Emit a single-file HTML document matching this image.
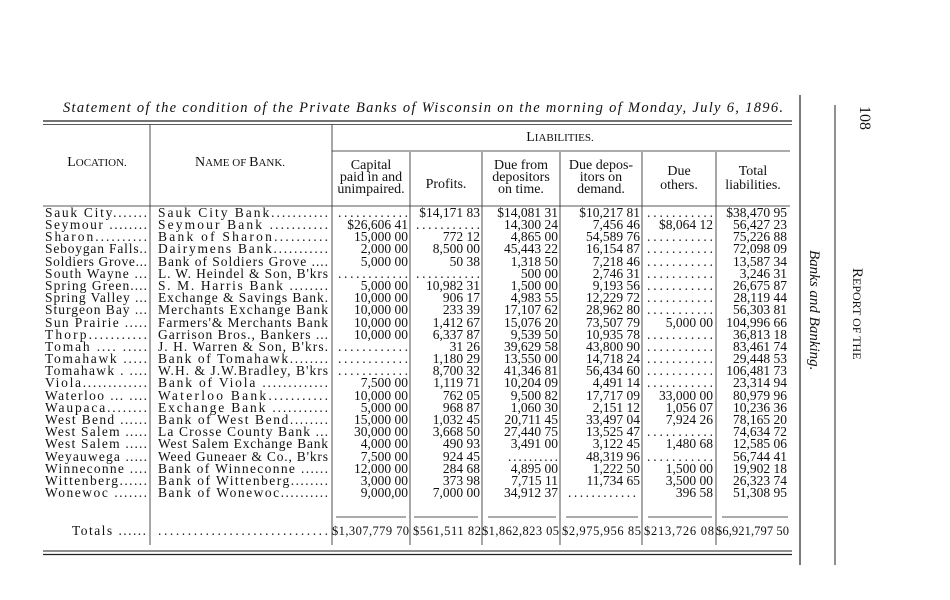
<!DOCTYPE html>
<html><head><meta charset="utf-8"><style>
html,body{margin:0;padding:0;background:#fff;}
svg{display:block;}
text{font-family:"Liberation Serif",serif;fill:#111;}
.b{font-size:13.5px;}
.n{font-size:13.5px;text-anchor:end;}
.h{font-size:14px;text-anchor:middle;}
</style></head><body>
<svg width="950" height="600" viewBox="0 0 950 600" xmlns="http://www.w3.org/2000/svg">
<rect width="950" height="600" fill="#fff"/>
<text x="63" y="112" font-size="14.5" font-style="italic" textLength="720">Statement of the condition of the Private Banks of Wisconsin on the morning of Monday, July 6, 1896.</text>
<g stroke="#222" fill="none">
<line x1="43" y1="121" x2="792" y2="121" stroke-width="1.2"/>
<line x1="43" y1="124.5" x2="792" y2="124.5" stroke-width="0.8"/>
<line x1="332" y1="151" x2="790" y2="151" stroke-width="0.8"/>
<line x1="43" y1="206" x2="790" y2="206" stroke-width="0.8"/>
<line x1="43" y1="551" x2="792" y2="551" stroke-width="1"/>
<line x1="43" y1="554.5" x2="792" y2="554.5" stroke-width="1.2"/>
<line x1="150" y1="125" x2="150" y2="545" stroke-width="0.8"/>
<line x1="332" y1="125" x2="332" y2="545" stroke-width="0.8"/>
<line x1="410" y1="152" x2="410" y2="545" stroke-width="0.8"/>
<line x1="482" y1="152" x2="482" y2="545" stroke-width="0.8"/>
<line x1="560" y1="152" x2="560" y2="545" stroke-width="0.8"/>
<line x1="642" y1="152" x2="642" y2="545" stroke-width="0.8"/>
<line x1="716" y1="152" x2="716" y2="545" stroke-width="0.8"/>
<line x1="800" y1="95" x2="800" y2="565" stroke-width="1.2"/>
<line x1="835" y1="105" x2="835" y2="565" stroke-width="1"/>
<line x1="336" y1="517" x2="406" y2="517" stroke-width="0.8"/>
<line x1="414" y1="517" x2="478" y2="517" stroke-width="0.8"/>
<line x1="488" y1="517" x2="556" y2="517" stroke-width="0.8"/>
<line x1="566" y1="517" x2="638" y2="517" stroke-width="0.8"/>
<line x1="648" y1="517" x2="712" y2="517" stroke-width="0.8"/>
<line x1="722" y1="517" x2="788" y2="517" stroke-width="0.8"/>
</g>
<text class="h" x="97" y="166">L<tspan font-size="11">OCATION.</tspan></text>
<text class="h" x="240" y="166">N<tspan font-size="11">AME OF </tspan>B<tspan font-size="11">ANK.</tspan></text>
<text class="h" x="560" y="141">L<tspan font-size="11">IABILITIES.</tspan></text>
<text class="h" x="371" y="169">Capital</text><text class="h" x="371" y="181">paid in and</text><text class="h" x="371" y="193">unimpaired.</text>
<text class="h" x="446" y="188">Profits.</text>
<text class="h" x="521" y="169">Due from</text><text class="h" x="521" y="181">depositors</text><text class="h" x="521" y="193">on time.</text>
<text class="h" x="601" y="169">Due depos-</text><text class="h" x="601" y="181">itors on</text><text class="h" x="601" y="193">demand.</text>
<text class="h" x="679" y="175">Due</text><text class="h" x="679" y="189">others.</text>
<text class="h" x="753" y="175">Total</text><text class="h" x="753" y="189">liabilities.</text>

<g class="b">
<text x="45" y="217" textLength="102">Sauk City.......</text>
<text x="45" y="229" textLength="102">Seymour ........</text>
<text x="45" y="241" textLength="102">Sharon..........</text>
<text x="45" y="253" textLength="102">Seboygan Falls..</text>
<text x="45" y="266" textLength="102">Soldiers Grove...</text>
<text x="45" y="278" textLength="102">South Wayne ...</text>
<text x="45" y="290" textLength="102">Spring Green....</text>
<text x="45" y="302" textLength="102">Spring Valley ...</text>
<text x="45" y="314" textLength="102">Sturgeon Bay ...</text>
<text x="45" y="327" textLength="102">Sun Prairie .....</text>
<text x="45" y="339" textLength="102">Thorp...........</text>
<text x="45" y="351" textLength="102">Tomah .... .....</text>
<text x="45" y="363" textLength="102">Tomahawk .....</text>
<text x="45" y="375" textLength="102">Tomahawk . ....</text>
<text x="45" y="387" textLength="102">Viola.............</text>
<text x="45" y="400" textLength="102">Waterloo ... ....</text>
<text x="45" y="412" textLength="102">Waupaca........</text>
<text x="45" y="424" textLength="102">West Bend ......</text>
<text x="45" y="436" textLength="102">West Salem .....</text>
<text x="45" y="448" textLength="102">West Salem .....</text>
<text x="45" y="461" textLength="102">Weyauwega .....</text>
<text x="45" y="473" textLength="102">Winneconne ....</text>
<text x="45" y="485" textLength="102">Wittenberg......</text>
<text x="45" y="497" textLength="102">Wonewoc .......</text>
<text x="72" y="535" textLength="74">Totals ......</text>

<text x="158" y="217" textLength="170">Sauk City Bank...........</text>
<text x="158" y="229" textLength="170">Seymour Bank ...........</text>
<text x="158" y="241" textLength="170">Bank of Sharon..........</text>
<text x="158" y="253" textLength="170">Dairymens Bank...........</text>
<text x="158" y="266" textLength="170">Bank of Soldiers Grove ....</text>
<text x="158" y="278" textLength="170">L. W. Heindel &amp; Son, B'krs</text>
<text x="158" y="290" textLength="170">S. M. Harris Bank ........</text>
<text x="158" y="302" textLength="170">Exchange &amp; Savings Bank.</text>
<text x="158" y="314" textLength="170">Merchants Exchange Bank</text>
<text x="158" y="327" textLength="170">Farmers'&amp; Merchants Bank</text>
<text x="158" y="339" textLength="170">Garrison Bros., Bankers ...</text>
<text x="158" y="351" textLength="170">J. H. Warren &amp; Son, B'krs.</text>
<text x="158" y="363" textLength="170">Bank of Tomahawk........</text>
<text x="158" y="375" textLength="170">W.H. &amp; J.W.Bradley, B'krs</text>
<text x="158" y="387" textLength="170">Bank of Viola .............</text>
<text x="158" y="400" textLength="170">Waterloo Bank...........</text>
<text x="158" y="412" textLength="170">Exchange Bank ...........</text>
<text x="158" y="424" textLength="170">Bank of West Bend........</text>
<text x="158" y="436" textLength="170">La Crosse County Bank ...</text>
<text x="158" y="448" textLength="170">West Salem Exchange Bank</text>
<text x="158" y="461" textLength="170">Weed Guneaer &amp; Co., B'krs</text>
<text x="158" y="473" textLength="170">Bank of Winneconne ......</text>
<text x="158" y="485" textLength="170">Bank of Wittenberg........</text>
<text x="158" y="497" textLength="170">Bank of Wonewoc..........</text>
<text x="158" y="535" textLength="170">.............................</text>
</g>

<g class="n">
<text x="408" y="217" textLength="70">............</text>
<text x="408" y="229">$26,606 41</text>
<text x="408" y="241">15,000 00</text>
<text x="408" y="253">2,000 00</text>
<text x="408" y="266">5,000 00</text>
<text x="408" y="278" textLength="70">............</text>
<text x="408" y="290">5,000 00</text>
<text x="408" y="302">10,000 00</text>
<text x="408" y="314">10,000 00</text>
<text x="408" y="327">10,000 00</text>
<text x="408" y="339">10,000 00</text>
<text x="408" y="351" textLength="70">............</text>
<text x="408" y="363" textLength="70">............</text>
<text x="408" y="375" textLength="70">............</text>
<text x="408" y="387">7,500 00</text>
<text x="408" y="400">10,000 00</text>
<text x="408" y="412">5,000 00</text>
<text x="408" y="424">15,000 00</text>
<text x="408" y="436">30,000 00</text>
<text x="408" y="448">4,000 00</text>
<text x="408" y="461">7,500 00</text>
<text x="408" y="473">12,000 00</text>
<text x="408" y="485">3,000 00</text>
<text x="408" y="497">9,000,00</text>
<text x="409" y="535" font-size="12.5" textLength="77">$1,307,779 70</text>

<text x="480" y="217">$14,171 83</text>
<text x="480" y="229" textLength="64">...........</text>
<text x="480" y="241">772 12</text>
<text x="480" y="253">8,500 00</text>
<text x="480" y="266">50 38</text>
<text x="480" y="278" textLength="64">...........</text>
<text x="480" y="290">10,982 31</text>
<text x="480" y="302">906 17</text>
<text x="480" y="314">233 39</text>
<text x="480" y="327">1,412 67</text>
<text x="480" y="339">6,337 87</text>
<text x="480" y="351">31 26</text>
<text x="480" y="363">1,180 29</text>
<text x="480" y="375">8,700 32</text>
<text x="480" y="387">1,119 71</text>
<text x="480" y="400">762 05</text>
<text x="480" y="412">968 87</text>
<text x="480" y="424">1,032 45</text>
<text x="480" y="436">3,668 50</text>
<text x="480" y="448">490 93</text>
<text x="480" y="461">924 45</text>
<text x="480" y="473">284 68</text>
<text x="480" y="485">373 98</text>
<text x="480" y="497">7,000 00</text>
<text x="481" y="535" font-size="12.5" textLength="68">$561,511 82</text>

<text x="558" y="217">$14,081 31</text>
<text x="558" y="229">14,300 24</text>
<text x="558" y="241">4,865 00</text>
<text x="558" y="253">45,443 22</text>
<text x="558" y="266">1,318 50</text>
<text x="558" y="278">500 00</text>
<text x="558" y="290">1,500 00</text>
<text x="558" y="302">4,983 55</text>
<text x="558" y="314">17,107 62</text>
<text x="558" y="327">15,076 20</text>
<text x="558" y="339">9,539 50</text>
<text x="558" y="351">39,629 58</text>
<text x="558" y="363">13,550 00</text>
<text x="558" y="375">41,346 81</text>
<text x="558" y="387">10,204 09</text>
<text x="558" y="400">9,500 82</text>
<text x="558" y="412">1,060 30</text>
<text x="558" y="424">20,711 45</text>
<text x="558" y="436">27,440 75</text>
<text x="558" y="448">3,491 00</text>
<text x="558" y="461" textLength="50">..........</text>
<text x="558" y="473">4,895 00</text>
<text x="558" y="485">7,715 11</text>
<text x="558" y="497">34,912 37</text>
<text x="559" y="535" font-size="12.5" textLength="77">$1,862,823 05</text>

<text x="640" y="217">$10,217 81</text>
<text x="640" y="229">7,456 46</text>
<text x="640" y="241">54,589 76</text>
<text x="640" y="253">16,154 87</text>
<text x="640" y="266">7,218 46</text>
<text x="640" y="278">2,746 31</text>
<text x="640" y="290">9,193 56</text>
<text x="640" y="302">12,229 72</text>
<text x="640" y="314">28,962 80</text>
<text x="640" y="327">73,507 79</text>
<text x="640" y="339">10,935 78</text>
<text x="640" y="351">43,800 90</text>
<text x="640" y="363">14,718 24</text>
<text x="640" y="375">56,434 60</text>
<text x="640" y="387">4,491 14</text>
<text x="640" y="400">17,717 09</text>
<text x="640" y="412">2,151 12</text>
<text x="640" y="424">33,497 04</text>
<text x="640" y="436">13,525 47</text>
<text x="640" y="448">3,122 45</text>
<text x="640" y="461">48,319 96</text>
<text x="640" y="473">1,222 50</text>
<text x="640" y="485">11,734 65</text>
<text x="636" y="497" textLength="68">............</text>
<text x="641" y="535" font-size="12.5" textLength="79">$2,975,956 85</text>

<text x="713" y="217" textLength="66">...........</text>
<text x="713" y="229">$8,064 12</text>
<text x="713" y="241" textLength="66">...........</text>
<text x="713" y="253" textLength="66">...........</text>
<text x="713" y="266" textLength="66">...........</text>
<text x="713" y="278" textLength="66">...........</text>
<text x="713" y="290" textLength="66">...........</text>
<text x="713" y="302" textLength="66">...........</text>
<text x="713" y="314" textLength="66">...........</text>
<text x="713" y="327">5,000 00</text>
<text x="713" y="339" textLength="66">...........</text>
<text x="713" y="351" textLength="66">...........</text>
<text x="713" y="363" textLength="66">...........</text>
<text x="713" y="375" textLength="66">...........</text>
<text x="713" y="387" textLength="66">...........</text>
<text x="713" y="400">33,000 00</text>
<text x="713" y="412">1,056 07</text>
<text x="713" y="424">7,924 26</text>
<text x="713" y="436" textLength="66">...........</text>
<text x="713" y="448">1,480 68</text>
<text x="713" y="461" textLength="66">...........</text>
<text x="713" y="473">1,500 00</text>
<text x="713" y="485">3,500 00</text>
<text x="713" y="497">396 58</text>
<text x="714" y="535" font-size="12.5" textLength="70">$213,726 08</text>

<text x="787" y="217">$38,470 95</text>
<text x="787" y="229">56,427 23</text>
<text x="787" y="241">75,226 88</text>
<text x="787" y="253">72,098 09</text>
<text x="787" y="266">13,587 34</text>
<text x="787" y="278">3,246 31</text>
<text x="787" y="290">26,675 87</text>
<text x="787" y="302">28,119 44</text>
<text x="787" y="314">56,303 81</text>
<text x="787" y="327">104,996 66</text>
<text x="787" y="339">36,813 18</text>
<text x="787" y="351">83,461 74</text>
<text x="787" y="363">29,448 53</text>
<text x="787" y="375">106,481 73</text>
<text x="787" y="387">23,314 94</text>
<text x="787" y="400">80,979 96</text>
<text x="787" y="412">10,236 36</text>
<text x="787" y="424">78,165 20</text>
<text x="787" y="436">74,634 72</text>
<text x="787" y="448">12,585 06</text>
<text x="787" y="461">56,744 41</text>
<text x="787" y="473">19,902 18</text>
<text x="787" y="485">26,323 74</text>
<text x="787" y="497">51,308 95</text>
<text x="789" y="535" font-size="12.5" textLength="73">$6,921,797 50</text>
</g>

<text transform="translate(810,250) rotate(90)" font-size="15" font-style="italic">Banks and Banking.</text>
<text transform="translate(853,268) rotate(90)" font-size="15">R<tspan font-size="12">EPORT OF THE</tspan></text>
<text transform="translate(860,106) rotate(90)" font-size="16">108</text>
</svg>
</body></html>
